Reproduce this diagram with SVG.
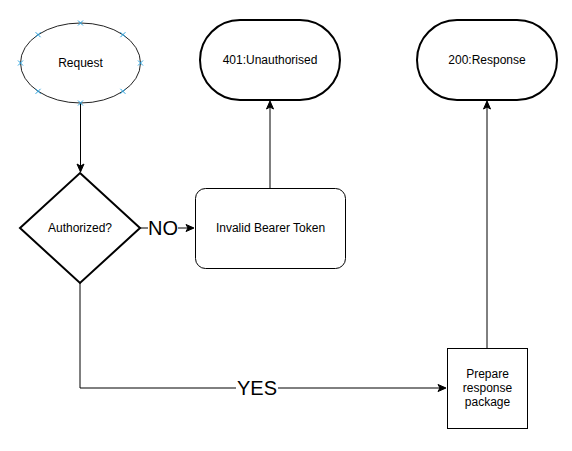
<svg xmlns="http://www.w3.org/2000/svg" width="572" height="451" viewBox="0 0 572 451">
<defs>
<marker id="arr" markerWidth="10" markerHeight="10" refX="8" refY="5" orient="auto" markerUnits="userSpaceOnUse">
<path d="M1,1.5 L9,5 L1,8.5 L3,5 Z" fill="#000" stroke="#000" stroke-width="1"/>
</marker>
<g id="xm"><path d="M-2.5,-2.5 L2.5,2.5 M-2.5,2.5 L2.5,-2.5" stroke="#29a3e0" stroke-width="1"/></g>
</defs>
<style>
.t{font-family:"Liberation Sans",Arial,sans-serif;font-size:12px;fill:#000;text-anchor:middle;dominant-baseline:central}
.big{font-family:"Liberation Sans",Arial,sans-serif;font-size:20px;fill:#000;text-anchor:middle;dominant-baseline:central}
.thin{fill:#fff;stroke:#000;stroke-width:1}
.thick{fill:#fff;stroke:#000;stroke-width:2}
.e{fill:none;stroke:#000;stroke-width:1}
</style>
<rect width="572" height="451" fill="#fff"/>
<g id="connectors">
<path class="e" d="M80.5,103 L80.5,171" marker-end="url(#arr)"/>
<path class="e" d="M140,228 L193,228" marker-end="url(#arr)"/>
<path class="e" d="M270,188 L270,102" marker-end="url(#arr)"/>
<path class="e" d="M80,283 L80,388 L445,388" marker-end="url(#arr)"/>
<path class="e" d="M487,348 L487,102" marker-end="url(#arr)"/>
<rect x="148" y="216" width="30" height="24" fill="#fff"/>
<text class="big" x="163" y="228">NO</text>
<rect x="236" y="376" width="42" height="24" fill="#fff"/>
<text class="big" x="257" y="388">YES</text>
</g>
<g id="request">
<ellipse cx="80.5" cy="63" rx="60" ry="40" fill="#fff" stroke="#222" stroke-width="1"/>
<use href="#xm" x="80.5" y="23"/>
<use href="#xm" x="80.5" y="103"/>
<use href="#xm" x="20.5" y="63"/>
<use href="#xm" x="140.5" y="63"/>
<use href="#xm" x="38.1" y="34.7"/>
<use href="#xm" x="122.9" y="34.7"/>
<use href="#xm" x="38.1" y="91.3"/>
<use href="#xm" x="122.9" y="91.3"/>
<text class="t" x="80.5" y="63">Request</text>
</g>
<g id="authorized">
<path class="thick" d="M80,173 L140,228 L80,283 L20,228 Z"/>
<text class="t" x="80" y="228">Authorized?</text>
</g>
<g id="invalid">
<rect class="thin" x="195.5" y="188.5" width="150" height="80" rx="10" ry="10"/>
<text class="t" x="270.5" y="228">Invalid Bearer Token</text>
</g>
<g id="unauth">
<rect class="thick" x="200" y="20" width="140" height="80" rx="40" ry="40"/>
<text class="t" x="270" y="60">401:Unauthorised</text>
</g>
<g id="response">
<rect class="thick" x="417" y="20" width="140" height="80" rx="40" ry="40"/>
<text class="t" x="487" y="60">200:Response</text>
</g>
<g id="prepare">
<rect class="thin" x="447.5" y="348.5" width="80" height="80"/>
<text class="t" x="487.5" y="374">Prepare</text>
<text class="t" x="487.5" y="388">response</text>
<text class="t" x="487.5" y="402">package</text>
</g>
</svg>
